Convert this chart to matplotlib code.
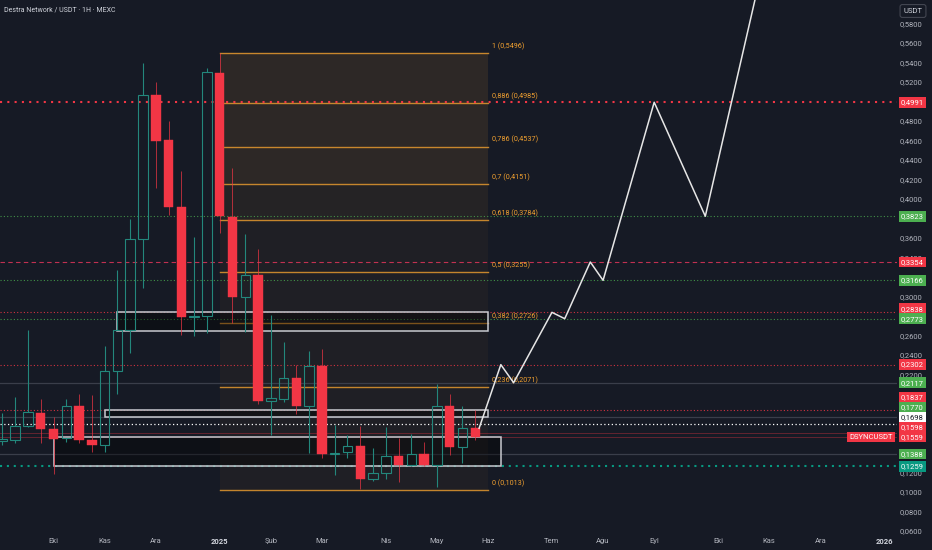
import numpy as np
import matplotlib.pyplot as plt
from matplotlib.patches import Rectangle

plt.rcParams['font.family'] = ['Roboto', 'DejaVu Sans']

bg = '#161a25'
red = '#f23645'
green = '#4caf50'
teal = '#089981'
up_col = '#23877c'
fib_col = '#f0a030'
txt_col = '#b2b5be'

title = 'Destra Network / USDT · 1H · MEXC'

# weekly candles, week 0 = first bar of Oct 2024
week = list(range(-4, 34))
o = [0.1520, 0.1530, 0.1673, 0.1810, 0.1640, 0.1548, 0.1878, 0.1530, 0.1479, 0.2240,
     0.2657, 0.3590, 0.5065, 0.4604, 0.3918, 0.2790, 0.2800, 0.5291, 0.3815, 0.2997,
     0.3221, 0.1930, 0.1947, 0.2168, 0.1878, 0.2288, 0.1386, 0.1410, 0.1472, 0.1130,
     0.1192, 0.1366, 0.1274, 0.1383, 0.1274, 0.1878, 0.1455, 0.1650]
h = [0.1807, 0.1970, 0.2657, 0.1950, 0.1769, 0.1950, 0.2001, 0.1991, 0.2493, 0.3272,
     0.3795, 0.5397, 0.5202, 0.4799, 0.4287, 0.3610, 0.5342, 0.5496, 0.4317, 0.3641,
     0.3484, 0.2811, 0.2537, 0.2299, 0.2445, 0.2462, 0.1684, 0.1581, 0.1677, 0.1451,
     0.1666, 0.1547, 0.1591, 0.1512, 0.2104, 0.1998, 0.1878, 0.1837]
l = [0.1479, 0.1499, 0.1663, 0.1499, 0.1181, 0.1513, 0.1499, 0.1410, 0.1410, 0.1999,
     0.2421, 0.3088, 0.4112, 0.3836, 0.2606, 0.2596, 0.2626, 0.3651, 0.2729, 0.2637,
     0.1900, 0.1581, 0.1922, 0.1796, 0.1400, 0.1345, 0.1171, 0.1345, 0.1028, 0.1113,
     0.1127, 0.1103, 0.1260, 0.1260, 0.1051, 0.1376, 0.1297, 0.1530]
c = [0.1540, 0.1673, 0.1817, 0.1640, 0.1545, 0.1878, 0.1530, 0.1479, 0.2240, 0.2657,
     0.3590, 0.5065, 0.4597, 0.3918, 0.2790, 0.2805, 0.5301, 0.3825, 0.2997, 0.3221,
     0.1930, 0.1965, 0.2168, 0.1878, 0.2288, 0.1386, 0.1400, 0.1472, 0.1130, 0.1192,
     0.1366, 0.1274, 0.1383, 0.1274, 0.1878, 0.1455, 0.1650, 0.1559]

# fibonacci retracement
fib_levels = ['1', '0,886', '0,786', '0,7', '0,618', '0,5', '0,382', '0,236', '0']
fib_prices = [0.5496, 0.4985, 0.4537, 0.4151, 0.3784, 0.3255, 0.2726, 0.2071, 0.1013]
fib_alpha = [0.11, 0.11, 0.11, 0.07, 0.045, 0.045, 0.045, 0.045]
fib_w0, fib_w1 = 13, 34

# horizontal levels with their price badges
lvl_price = [0.4991, 0.3823, 0.3354, 0.3166, 0.2838, 0.2773, 0.2302, 0.2117,
             0.1837, 0.1770, 0.1698, 0.1598, 0.1559, 0.1388, 0.1259]
lvl_kind = ['bigdot_r', 'dot_g', 'dash_r', 'dot_g', 'dot_r', 'dot_g', 'dot_r', 'solid_k',
            'dot_r', 'solid_k', 'dot_w', 'solid_r', 'solid_r', 'solid_k', 'bigdot_t']
badge_col = [red, green, red, green, red, green, red, green,
             red, green, 'white', red, red, green, teal]
last_price = 0.1559

# boxes
zone_w0 = [5, 4, 0]
zone_w1 = [34, 34, 35]
zone_lo = [0.2650, 0.1765, 0.1259]
zone_hi = [0.2838, 0.1837, 0.1559]

# projected path
proj_w = [33.3, 35, 36, 39, 40, 42, 43, 47, 51, 55.2]
proj_p = [0.1650, 0.2302, 0.2117, 0.2838, 0.2773, 0.3354, 0.3166, 0.4991, 0.3823, 0.6220]

# time axis
t_pos = [0, 4, 8, 13, 17, 21, 26, 30, 34, 39, 43, 47, 52, 56, 60, 65]
t_lab = ['Eki', 'Kas', 'Ara', '2025', 'Şub', 'Mar', 'Nis', 'May', 'Haz',
         'Tem', 'Ağu', 'Eyl', 'Eki', 'Kas', 'Ara', '2026']

fig = plt.figure(figsize=(9.32, 5.5), dpi=100, facecolor=bg)
ax = fig.add_axes([0, 18/550, 897/932, 532/550])
ax.set_facecolor(bg)
ax.set_xlim(-4.19, 66.0)
ax.set_ylim(0.0587, 0.6039)
for s in ax.spines.values():
    s.set_visible(False)

# fib fills + lines
for i in range(len(fib_prices) - 1):
    ax.add_patch(Rectangle((fib_w0, fib_prices[i+1]), fib_w1 - fib_w0,
                           fib_prices[i] - fib_prices[i+1], fc=fib_col,
                           alpha=fib_alpha[i], ec='none', zorder=1))
for lv, p in zip(fib_levels, fib_prices):
    ax.plot([fib_w0, fib_w1], [p, p], color=fib_col, lw=1, alpha=0.8, zorder=1.5)
    ax.annotate(lv + ' (' + f'{p:.4f}'.replace('.', ',') + ')', (fib_w1, p),
                xytext=(3, 2), textcoords='offset points', color=fib_col,
                fontsize=5.2, va='bottom', ha='left', zorder=3)

# horizontal lines
styles = {
    'bigdot_r': dict(color=red, lw=1.5, ls=(0, (1, 2.5))),
    'bigdot_t': dict(color=teal, lw=1.5, ls=(0, (1, 2.3))),
    'dot_r': dict(color=red, lw=0.8, ls=(0, (1, 2)), alpha=0.85),
    'dot_g': dict(color=green, lw=0.8, ls=(0, (1, 2)), alpha=0.8),
    'dot_w': dict(color='white', lw=0.9, ls=(0, (1, 2))),
    'dash_r': dict(color='#e0355a', lw=0.8, ls=(0, (4, 3)), alpha=0.85),
    'solid_k': dict(color='#3a3e4a', lw=0.9, ls='-'),
    'solid_r': dict(color=red, lw=0.7, ls='-', alpha=0.35),
}
for p, k in zip(lvl_price, lvl_kind):
    ax.axhline(p, zorder=2, **styles[k])

# zones
for i in range(len(zone_lo)):
    ax.add_patch(Rectangle((zone_w0[i], zone_lo[i]), zone_w1[i] - zone_w0[i],
                           zone_hi[i] - zone_lo[i], fc='black', alpha=0.38,
                           ec='none', zorder=2.2))
    ax.add_patch(Rectangle((zone_w0[i], zone_lo[i]), zone_w1[i] - zone_w0[i],
                           zone_hi[i] - zone_lo[i], fc='none', ec='#c8cad0',
                           lw=1.1, zorder=2.3))

# candles
bw = 0.74
for x, op, hi, lo, cl in zip(week, o, h, l, c):
    top, bot = max(op, cl), min(op, cl)
    if cl >= op:
        ax.add_patch(Rectangle((x - bw/2, bot), bw, max(top - bot, 0.0008),
                               fc='none', ec=up_col, lw=0.8, zorder=4))
        ax.vlines(x, top, hi, color=up_col, lw=0.8, zorder=4)
        ax.vlines(x, lo, bot, color=up_col, lw=0.8, zorder=4)
    else:
        ax.add_patch(Rectangle((x - bw/2, bot), bw, top - bot,
                               fc=red, ec=red, lw=0.3, zorder=4))
        ax.vlines(x, lo, hi, color=red, lw=0.7, alpha=0.7, zorder=3.9)

# projection
ax.plot(proj_w, proj_p, color='#e6e6e6', lw=1.1, zorder=5)

# badges, pushed apart around the last price
gap = 0.0102
disp = dict()
above = sorted([p for p in lvl_price if p > last_price])
below = sorted([p for p in lvl_price if p < last_price], reverse=True)
disp[last_price] = last_price
prev = last_price
for p in above:
    prev = max(p, prev + gap)
    disp[p] = prev
prev = last_price
for p in below:
    prev = min(p, prev - gap)
    disp[p] = prev

# price scale: labels sitting under a badge are not drawn
yt = np.arange(0.06, 0.5801, 0.02)
yt = [v for v in yt if min(abs(v - d) for d in disp.values()) > 0.0045]
ax.yaxis.tick_right()
ax.set_yticks(yt, [f'{v:.4f}'.replace('.', ',') for v in yt])
ax.tick_params(axis='y', length=0, pad=2, labelsize=5.5, labelcolor=txt_col)
ax.set_xticks(t_pos, t_lab)
ax.tick_params(axis='x', length=0, pad=4, labelsize=5.5, labelcolor=txt_col)
for t in ax.get_xticklabels():
    if t.get_text() in ('2025', '2026'):
        t.set_color('#d1d4dc')
        t.set_fontweight('bold')

ytr = ax.get_yaxis_transform()
for p, col in zip(lvl_price, badge_col):
    tc = '#131722' if col == 'white' else 'white'
    ax.text(1.0 + 4/897, disp[p], f'{p:.4f}'.replace('.', ','), transform=ytr,
            ha='left', va='center', fontsize=5.5, color=tc, clip_on=False, zorder=20,
            bbox=dict(boxstyle='square,pad=0.3', fc=col, ec='none'))
ax.text(1.0 - 4/897, disp[last_price], 'DSYNCUSDT', transform=ytr, ha='right',
        va='center', fontsize=5.5, color='white', zorder=20,
        bbox=dict(boxstyle='square,pad=0.3', fc=red, ec='none'))

fig.text(913/932, 1 - 11/550, 'USDT', ha='center', va='center', fontsize=5.5,
         color='#d1d4dc', bbox=dict(boxstyle='round,pad=0.45,rounding_size=0.3',
                                     fc=bg, ec='#434651', lw=0.8))
fig.text(4/932, 1 - 10/550, title, ha='left', va='center', fontsize=5.0, color='#d1d4dc')

fig.savefig('out.png', dpi=100, facecolor=bg)
